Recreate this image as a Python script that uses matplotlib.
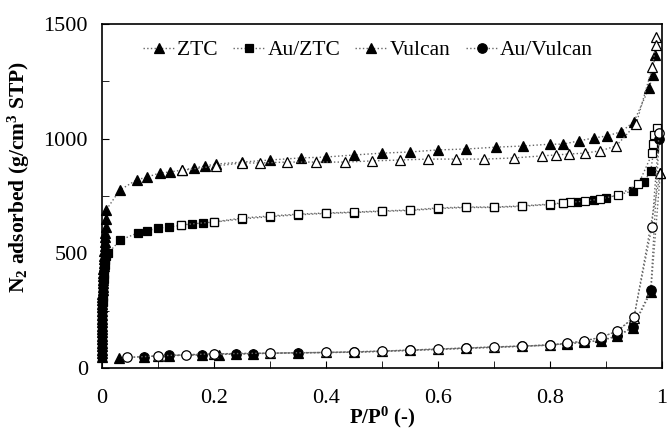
import matplotlib; matplotlib.use("Agg")
import matplotlib.pyplot as plt
from matplotlib.ticker import MultipleLocator

plt.rcParams.update({"font.family": "serif", "font.serif": ["Liberation Serif", "DejaVu Serif"],
                     "mathtext.fontset": "custom", "mathtext.rm": "Liberation Serif",
                     "mathtext.bf": "Liberation Serif:bold", "font.size": 15})

# ZTC
ztc_ads_x = [0.00001, 0.00002, 0.00003, 0.00005, 0.00007, 0.0001, 0.00013, 0.00016, 0.0002, 0.00025,
             0.0003, 0.00035, 0.0004, 0.0005, 0.0006, 0.0007, 0.0008, 0.0009, 0.001, 0.0012, 0.0014,
             0.0016, 0.0018, 0.002, 0.0023, 0.0026, 0.003, 0.0033, 0.0036, 0.004, 0.0045, 0.005,
             0.0055, 0.006, 0.0065, 0.007, 0.0075, 0.008,
             0.032, 0.062, 0.081, 0.103, 0.122, 0.143, 0.165, 0.184, 0.203, 0.25, 0.30, 0.355, 0.40,
             0.451, 0.50, 0.55, 0.60, 0.651, 0.703, 0.752, 0.80, 0.823, 0.851, 0.878, 0.902, 0.927,
             0.95, 0.977, 0.984, 0.987]
ztc_ads_y = [50, 65, 80, 95, 110, 125, 140, 155, 170, 185, 200, 215, 230, 250, 265, 280, 295, 310, 325,
             340, 355, 370, 385, 400, 415, 430, 445, 460, 475, 490, 510, 530, 550, 570, 590, 615, 650, 690,
             776, 820, 833, 850, 855, 863, 872, 881, 889, 898, 907, 916, 920,
             929, 937, 942, 951, 955, 963, 968, 976, 976, 990, 1003, 1012, 1030,
             1074, 1221, 1278, 1365]
ztc_des_x = [0.990, 0.989, 0.983, 0.954, 0.918, 0.89, 0.862, 0.834, 0.81, 0.786, 0.736, 0.683, 0.632,
             0.582, 0.533, 0.482, 0.434, 0.383, 0.33, 0.283, 0.25, 0.203, 0.143]
ztc_des_y = [1443, 1409, 1313, 1064, 968, 947, 937, 933, 929, 925, 916, 911, 911,
             911, 907, 903, 898, 898, 898, 894, 894, 881, 862]

# Au/ZTC
auztc_ads_x = [0.00001, 0.00003, 0.00005, 0.0001, 0.00015, 0.0002, 0.0003, 0.0004, 0.0005, 0.0006,
               0.0008, 0.001, 0.0012, 0.0015, 0.0018, 0.002, 0.0025, 0.003, 0.0035, 0.004, 0.005,
               0.006, 0.008, 0.011,
               0.033, 0.064, 0.08, 0.10, 0.12, 0.141, 0.161, 0.18, 0.20, 0.25, 0.30, 0.35, 0.40, 0.45,
               0.50, 0.55, 0.60, 0.65, 0.70, 0.75, 0.80, 0.823, 0.849, 0.878, 0.90, 0.948, 0.968,
               0.98, 0.986]
auztc_ads_y = [50, 70, 90, 110, 130, 150, 170, 190, 210, 230, 250, 270, 290, 310, 330, 350, 370, 390,
               410, 430, 450, 470, 488, 501,
               558, 589, 598, 610, 615, 622, 628, 632, 636, 650, 660, 668, 674, 678,
               683, 687, 695, 700, 700, 705, 713, 718, 724, 733, 741, 772, 811,
               860, 960]
auztc_des_x = [0.991, 0.986, 0.984, 0.983, 0.958, 0.922, 0.89, 0.862, 0.835, 0.823, 0.80, 0.75, 0.70,
               0.65, 0.60, 0.55, 0.50, 0.45, 0.40, 0.35, 0.30, 0.25, 0.20, 0.141]
auztc_des_y = [1047, 1016, 977, 937, 802, 754, 737, 728, 722, 720, 715, 707, 702,
               702, 698, 689, 685, 680, 676, 671, 663, 654, 637, 624]

# Vulcan
vul_ads_x = [0.03, 0.075, 0.12, 0.178, 0.21, 0.24, 0.27, 0.35, 0.45, 0.55, 0.65, 0.75, 0.83, 0.86,
             0.892, 0.92, 0.948, 0.98, 0.997]
vul_ads_y = [44, 50, 54, 57, 59, 61, 63, 66, 69, 77, 86, 95, 106, 112, 120, 138, 176, 330, 850]
vul_des_x = [0.997, 0.95, 0.92, 0.89, 0.86, 0.83, 0.80, 0.70, 0.60, 0.50, 0.40, 0.30, 0.20, 0.10]
vul_des_y = [850, 220, 160, 134, 117, 108, 100, 92, 83, 74, 68, 65, 62, 53]

# Au/Vulcan
auvul_ads_x = [0.075, 0.12, 0.178, 0.24, 0.27, 0.35, 0.45, 0.55, 0.65, 0.75, 0.80, 0.83, 0.86, 0.892,
               0.92, 0.948, 0.98, 0.995]
auvul_ads_y = [50, 55, 58, 61, 63, 67, 69, 77, 86, 95, 99, 106, 112, 122, 140, 179, 340, 1000]
auvul_des_x = [0.995, 0.982, 0.95, 0.92, 0.892, 0.86, 0.83, 0.80, 0.75, 0.70, 0.65, 0.60, 0.55, 0.50,
               0.45, 0.40, 0.30, 0.20, 0.15, 0.10, 0.045]
auvul_des_y = [1025, 615, 222, 161, 135, 118, 109, 100, 96, 92, 87, 83, 78, 74,
               70, 68, 65, 62, 58, 53, 46]

fig = plt.figure(figsize=(6.7, 4.33), dpi=100)
ax = fig.add_axes([0.152, 0.150, 0.836, 0.7946])
kw = dict(ls=":", color="#666666", lw=1.0, mec="black", mew=0.9, clip_on=False)

h1, = ax.plot(ztc_ads_x, ztc_ads_y, marker="^", ms=7, mfc="black", label="ZTC", **kw)
ax.plot(ztc_des_x, ztc_des_y, marker="^", ms=7, mfc="white", **kw)
h2, = ax.plot(auztc_ads_x, auztc_ads_y, marker="s", ms=6.3, mfc="black", label="Au/ZTC", **kw)
ax.plot(auztc_des_x, auztc_des_y, marker="s", ms=6.3, mfc="white", **kw)
h3, = ax.plot(vul_ads_x, vul_ads_y, marker="^", ms=7, mfc="black", label="Vulcan", **kw)
ax.plot(vul_des_x, vul_des_y, marker="^", ms=7, mfc="white", **kw)
h4, = ax.plot(auvul_ads_x, auvul_ads_y, marker="o", ms=6.8, mfc="black", label="Au/Vulcan", **kw)
ax.plot(auvul_des_x, auvul_des_y, marker="o", ms=6.8, mfc="white", **kw)

ax.set_xlim(0, 1)
ax.set_ylim(0, 1500)
ax.xaxis.set_major_locator(MultipleLocator(0.2))
ax.xaxis.set_minor_locator(MultipleLocator(0.1))
ax.yaxis.set_major_locator(MultipleLocator(500))
ax.yaxis.set_minor_locator(MultipleLocator(250))
ax.xaxis.set_major_formatter(plt.FuncFormatter(lambda v, p: "%g" % round(v, 1)))
ax.tick_params(which="both", direction="in", top=False, right=False, labelsize=16)
ax.tick_params(axis="x", which="major", length=5, pad=15)
ax.tick_params(axis="y", which="major", length=5, pad=10)
ax.tick_params(which="minor", length=5)
for sp in ax.spines.values():
    sp.set_linewidth(1.2)

ax.set_xlabel(r"$\mathbf{P/P^0}$ (-)", fontsize=15, fontweight="bold", labelpad=-2)
ax.set_ylabel(r"$\mathbf{N_2}$ adsorbed (g/cm$\mathbf{^3}$ STP)", fontsize=15.5, fontweight="bold")
ax.yaxis.set_label_coords(-0.125, 0.555)

ax.legend(handles=[h1, h2, h3, h4], loc="upper center", bbox_to_anchor=(0.475, 1.0), ncol=4,
          frameon=False, fontsize=15.5, handlelength=1.5, handletextpad=0.1, columnspacing=0.7,
          borderaxespad=0.35)

fig.savefig("out.png", dpi=100)
